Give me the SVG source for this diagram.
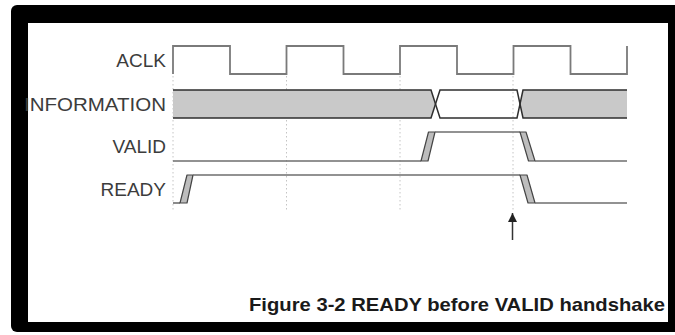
<svg xmlns="http://www.w3.org/2000/svg" width="675" height="335" viewBox="0 0 675 335">
<defs>
<style>
.lbl{font-family:"Liberation Sans",Arial,sans-serif;font-size:19px;fill:#3c3c3c;text-anchor:end}
.cap{font-family:"Liberation Sans",Arial,sans-serif;font-size:19px;font-weight:bold;fill:#1a1a1a}
.clk{fill:none;stroke:#7a7a7a;stroke-width:1.8}
.sig{fill:none;stroke:#6e6e6e;stroke-width:1.6}
.bus{fill:#c9c9c9;stroke:none}
.busl{fill:none;stroke:#2e2e2e;stroke-width:1.5}
.edge{fill:#bdbdbd;stroke:#444;stroke-width:1.2;stroke-linejoin:round}
.guide{stroke:#c4c4c4;stroke-width:1;stroke-dasharray:1.5 2.5}
</style>
<marker id="ah" viewBox="0 0 10 10" refX="10" refY="5" markerWidth="9" markerHeight="9" markerUnits="userSpaceOnUse" orient="auto">
<path d="M0,0 L10,5 L0,10 Z" fill="#222"/>
</marker>
</defs>
<rect width="675" height="335" fill="#fff"/>
<rect x="11" y="5" width="680" height="327" rx="6" fill="#000"/>
<rect x="28" y="23" width="640" height="299" fill="#fff"/>

<g id="guides">
<line class="guide" x1="173" y1="76" x2="173" y2="212"/>
<line class="guide" x1="286.5" y1="76" x2="286.5" y2="212"/>
<line class="guide" x1="400" y1="76" x2="400" y2="212"/>
<line class="guide" x1="513" y1="76" x2="513" y2="212"/>
</g>

<g id="aclk">
<text class="lbl" x="166" y="67">ACLK</text>
<path class="clk" d="M173,74 V46 H230 V74 H286.5 V46 H343.5 V74 H400 V46 H457 V74 H513.5 V46 H570.5 V74 H627 V46"/>
</g>

<g id="information">
<text class="lbl" x="166" y="111" textLength="142" lengthAdjust="spacingAndGlyphs">INFORMATION</text>
<path class="bus" d="M173,90 H431 L435.5,104 L431,118 H173 Z"/>
<path class="bus" d="M523,90 H627 V118 H523 L520,104 Z"/>
<path class="busl" d="M173,90 H431 L440,118 H517 L523,90 H627"/>
<path class="busl" d="M173,118 H431 L440,90 H517 L523,118 H627"/>
</g>

<g id="valid">
<text class="lbl" x="166" y="153">VALID</text>
<path class="sig" d="M173,161 H421"/>
<polygon class="edge" points="421,161 428,161 435,132 428.5,132"/>
<path class="sig" d="M435,132 H520"/>
<polygon class="edge" points="520,132 526,132 535,161 528.5,161"/>
<path class="sig" d="M535,161 H627"/>
</g>

<g id="ready">
<text class="lbl" x="166" y="196">READY</text>
<path class="sig" d="M173,203 H180"/>
<polygon class="edge" points="180,203 187,203 193,175 187,175"/>
<path class="sig" d="M193,175 H520"/>
<polygon class="edge" points="520,175 527,175 535,203 528,203"/>
<path class="sig" d="M535,203 H627"/>
</g>

<g id="connectors">
<line x1="512.5" y1="240" x2="512.5" y2="213" stroke="#333" stroke-width="1.5" marker-end="url(#ah)"/>
</g>

<g id="caption">
<text class="cap" x="249" y="311" textLength="416" lengthAdjust="spacingAndGlyphs">Figure 3-2 READY before VALID handshake</text>
</g>
</svg>
